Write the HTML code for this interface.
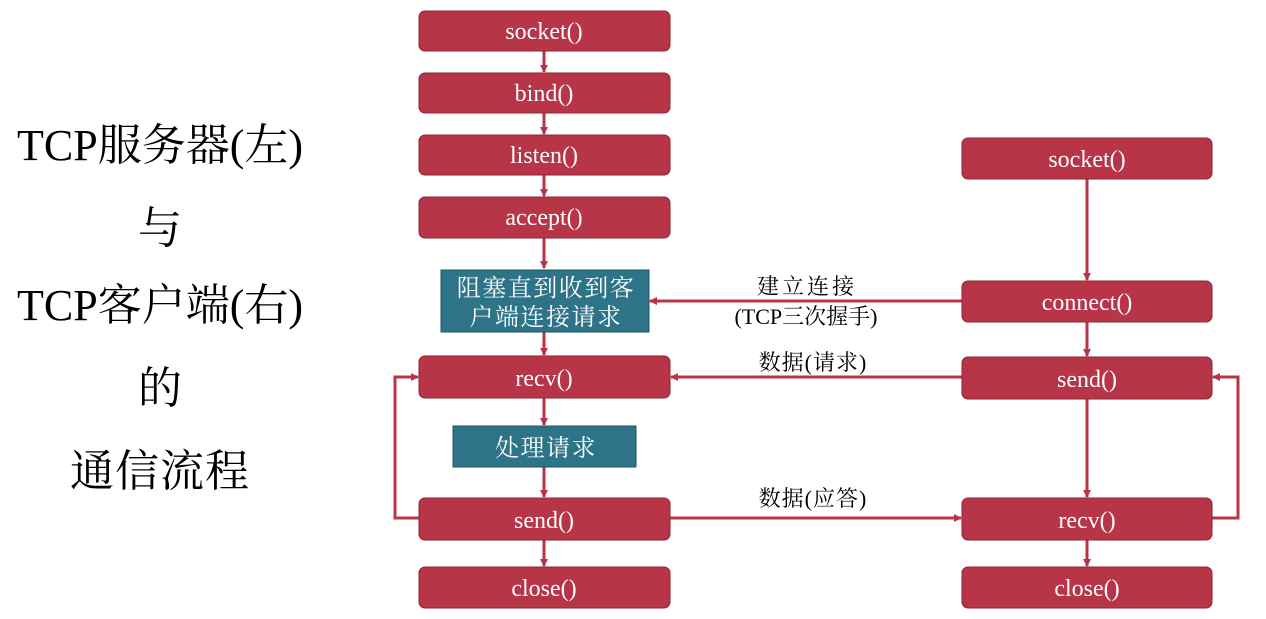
<!DOCTYPE html>
<html><head><meta charset="utf-8"><style>
body{margin:0;background:#fff;width:1266px;height:614px;overflow:hidden}
svg text{font-family:"Liberation Serif","Noto Serif CJK SC",serif}
</style></head><body>
<svg width="1266" height="614" viewBox="0 0 1266 614" xmlns="http://www.w3.org/2000/svg">
<defs>
<marker id="a" markerWidth="8" markerHeight="8" refX="7" refY="4" orient="auto" markerUnits="userSpaceOnUse">
<path d="M0,0 L8,4 L0,8 Z" fill="#B83447"/></marker>
</defs>
<g font-size="44" text-anchor="middle" fill="#000">
<text x="160" y="160">TCP服务器(左)</text>
<text x="160" y="243">与</text>
<text x="160" y="320">TCP客户端(右)</text>
<text x="160" y="403">的</text>
<text x="160" y="486" letter-spacing="1">通信流程</text>
</g>
<g stroke="#B83447" stroke-width="3" fill="none">
<line x1="544" y1="51" x2="544" y2="72" marker-end="url(#a)"/>
<line x1="544" y1="113" x2="544" y2="134" marker-end="url(#a)"/>
<line x1="544" y1="175" x2="544" y2="196" marker-end="url(#a)"/>
<line x1="544" y1="238" x2="544" y2="268" marker-end="url(#a)"/>
<line x1="544" y1="332" x2="544" y2="355" marker-end="url(#a)"/>
<line x1="544" y1="398" x2="544" y2="425" marker-end="url(#a)"/>
<line x1="544" y1="467" x2="544" y2="497" marker-end="url(#a)"/>
<line x1="544" y1="540" x2="544" y2="566" marker-end="url(#a)"/>
<line x1="1087" y1="179" x2="1087" y2="280" marker-end="url(#a)"/>
<line x1="1087" y1="322" x2="1087" y2="356" marker-end="url(#a)"/>
<line x1="1087" y1="399" x2="1087" y2="497" marker-end="url(#a)"/>
<line x1="1087" y1="540" x2="1087" y2="566" marker-end="url(#a)"/>
<line x1="962" y1="301" x2="650" y2="301" marker-end="url(#a)"/>
<line x1="962" y1="377" x2="671" y2="377" marker-end="url(#a)"/>
<line x1="670" y1="518" x2="961" y2="518" marker-end="url(#a)"/>
<polyline points="419,518 395,518 395,377 418,377" marker-end="url(#a)"/>
<polyline points="1212,518 1238,518 1238,377 1213,377" marker-end="url(#a)"/>
</g>
<g fill="#B83447" stroke="#8E2435" stroke-width="1">
<rect x="419" y="11" width="251" height="40" rx="6"/>
<rect x="419" y="73" width="251" height="40" rx="6"/>
<rect x="419" y="135" width="251" height="40" rx="6"/>
<rect x="419" y="197" width="251" height="41" rx="6"/>
<rect x="419" y="356" width="251" height="42" rx="6"/>
<rect x="419" y="498" width="251" height="42" rx="6"/>
<rect x="419" y="567" width="251" height="41" rx="6"/>
<rect x="962" y="138" width="250" height="41" rx="6"/>
<rect x="962" y="281" width="250" height="41" rx="6"/>
<rect x="962" y="357" width="250" height="42" rx="6"/>
<rect x="962" y="498" width="250" height="42" rx="6"/>
<rect x="962" y="567" width="250" height="41" rx="6"/>
</g>
<g fill="#2E7489" stroke="#1F5566" stroke-width="1">
<rect x="441" y="270" width="208" height="62"/>
<rect x="453" y="426" width="183" height="41"/>
</g>
<g font-size="24" fill="#fff" text-anchor="middle">
<text x="544" y="39">socket()</text>
<text x="544" y="101">bind()</text>
<text x="544" y="163">listen()</text>
<text x="544" y="225">accept()</text>
<text x="544" y="386">recv()</text>
<text x="544" y="528">send()</text>
<text x="544" y="596">close()</text>
<text x="1087" y="167">socket()</text>
<text x="1087" y="310">connect()</text>
<text x="1087" y="387">send()</text>
<text x="1087" y="528">recv()</text>
<text x="1087" y="596">close()</text>
</g>
<g font-size="24" fill="#fff" text-anchor="middle" letter-spacing="1.5">
<text x="546" y="296">阻塞直到收到客</text>
<text x="546" y="325">户端连接请求</text>
<text x="546" y="456">处理请求</text>
</g>
<g font-size="22" fill="#000" text-anchor="middle">
<text x="807" y="294" letter-spacing="3">建立连接</text>
<text x="806" y="324">(TCP三次握手)</text>
<text x="813" y="370" letter-spacing="1">数据(请求)</text>
<text x="813" y="506" letter-spacing="1">数据(应答)</text>
</g>
</svg>
</body></html>
